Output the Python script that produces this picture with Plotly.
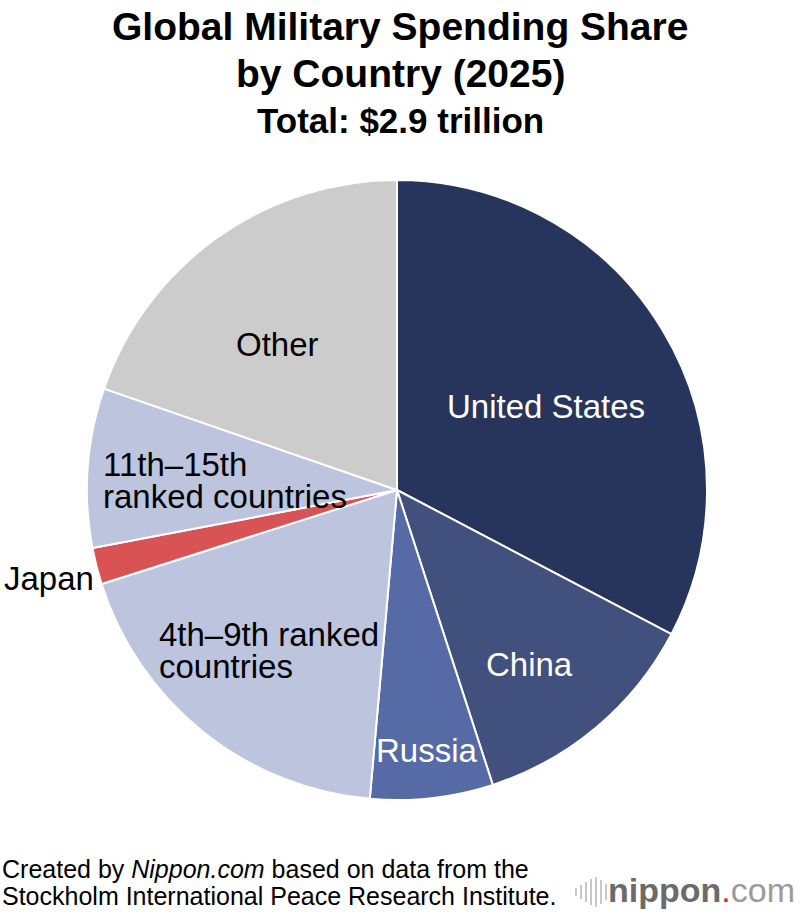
import plotly.graph_objects as go

# share of global military spending (%), clockwise from 12 o'clock
labels = ["United States", "China", "Russia", "4th–9th ranked countries",
          "Japan", "11th–15th ranked countries", "Other"]
shares = [32.7, 12.3, 6.4, 18.7, 1.9, 8.3, 19.7]
colors = ["#27345b", "#41507d", "#566aa6", "#bcc5dd", "#d95354", "#bcc5dd", "#cccccc"]

title_lines = ["Global Military Spending Share", "by Country (2025)"]
subtitle = "Total: $2.9 trillion"
source_lines = ["Created by <i>Nippon.com</i> based on data from the",
                "Stockholm International Peace Research Institute."]

W, H = 800, 920
FONT = "Liberation Sans, Arial, sans-serif"

# pie centre and radius in pixels
cx, cy, r = 397, 490, 310

fig = go.Figure()
fig.add_trace(go.Pie(
    labels=labels, values=shares, sort=False, direction="clockwise", rotation=0,
    marker=dict(colors=colors, line=dict(color="white", width=2)),
    textinfo="none", hoverinfo="label+percent", showlegend=False,
    domain=dict(x=[(cx - r) / W, (cx + r) / W],
                y=[(H - cy - r) / H, (H - cy + r) / H]),
))


def px(x, y):
    return x / W, 1 - y / H


def note(text, x, y, size=33, color="black", xanchor="center", bold=False):
    ax, ay = px(x, y)
    if bold:
        text = f"<b>{text}</b>"
    fig.add_annotation(text=text, x=ax, y=ay, xref="paper", yref="paper",
                       xanchor=xanchor, yanchor="middle", showarrow=False,
                       font=dict(family=FONT, size=size, color=color))


# titles
note(title_lines[0], 400, 27, size=39, bold=True)
note(title_lines[1], 400, 74, size=39, bold=True)
note(subtitle, 400, 120, size=35, bold=True)

# slice labels
note(labels[0], 546, 406, color="white")
note(labels[1], 529, 664, color="white")
note(labels[2], 427, 750, color="white")
note("4th–9th ranked", 157, 634, xanchor="left")
note("countries", 157, 666, xanchor="left")
note(labels[4], 2, 578, xanchor="left")
note("11th–15th", 101, 464, xanchor="left")
note("ranked countries", 101, 496, xanchor="left")
note(labels[6], 277, 344)

# source
note(source_lines[0], 0, 869, size=25, xanchor="left")
note(source_lines[1], 0, 896, size=25, xanchor="left")

# logo
note("<b><span style='color:#6b6b6b'>nippon</span></b>"
     "<span style='color:#e0202a'>.</span><span style='color:#9a9a9a'>com</span>",
     797, 890, size=34, xanchor="right")
bar_h = [8, 14, 20, 26, 30, 24, 16]
for i, h in enumerate(bar_h):
    x0 = 576 + i * 5
    fig.add_shape(type="line", xref="paper", yref="paper",
                  x0=x0 / W, x1=x0 / W, y0=1 - (892 - h / 2) / H, y1=1 - (892 + h / 2) / H,
                  line=dict(color="#c8c8c8", width=2))

fig.update_layout(
    width=W, height=H, margin=dict(l=0, r=0, t=0, b=0),
    paper_bgcolor="white", plot_bgcolor="white",
    font=dict(family=FONT),
)

fig.write_html("out.html", config={"displayModeBar": False},
               post_script="document.body.style.margin='0';")
